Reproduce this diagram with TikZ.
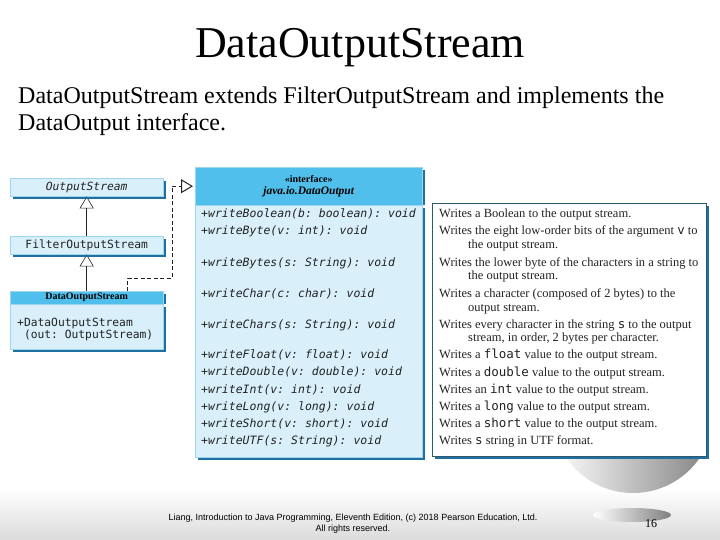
\documentclass[tikz,border=0pt]{standalone}
\usepackage{fontspec}
\setmainfont{Liberation Serif}
\setsansfont{Liberation Sans}
\setmonofont{DejaVu Sans Mono}
\usepackage{xcolor}
\usetikzlibrary{arrows.meta,positioning}
\definecolor{umlhead}{HTML}{50BFEB}
\definecolor{umlbody}{HTML}{D9F0FB}
\definecolor{umledge}{HTML}{9ED6F0}
\definecolor{umlshade}{HTML}{1F6FA0}
\definecolor{descedge}{HTML}{2E5A6E}
\definecolor{inkdark}{HTML}{222222}
\tikzset{
  % ---- class boxes ----------------------------------------------------
  ubox/.style={
    draw=umledge, line width=0.4pt, fill=umlbody, anchor=north west,
    inner sep=0pt, minimum width=153pt},
  uhead/.style={ubox, fill=umlhead},
  ushade/.style={draw=umlshade, line width=2.5pt},
  umono/.style={font=\fontsize{11.3}{12}\ttfamily, text=inkdark,
                inner sep=0pt},
  umeth/.style={umono, font=\fontsize{11.5}{12}\ttfamily\itshape,
                anchor=base west},
  % ---- description ----------------------------------------------------
  udesc/.style={font=\fontsize{12.5}{14}\selectfont, text=inkdark,
                anchor=base west, inner sep=0pt},
  % ---- connections ----------------------------------------------------
  uext/.style={-{Triangle[open, length=12pt, width=14pt]},
               draw=inkdark, line width=0.6pt},
  uimpl/.style={uext, dashed, dash pattern=on 4pt off 2.5pt,
                line width=1pt},
}

\begin{document}
\begin{tikzpicture}[x=1pt, y=-1pt]
\useasboundingbox (0,0) rectangle (720,540);

% ---------------- slide backdrop -------------------------------------
\shade[top color=white, bottom color=black!14] (0,488) rectangle (720,540);
\begin{scope}
  \clip (540,457) rectangle (720,500);
  \shade[left color=white, right color=black!50] (633,412) circle (81);
\end{scope}
\shade[left color=white, right color=black!50] (632,515) ellipse (39 and 7);

% ---------------- slide text -----------------------------------------
\node[font=\fontsize{44}{50}\selectfont, anchor=base] (title)
  at (360,58) {DataOutputStream};
\node[font=\fontsize{24}{28}\selectfont, anchor=base west, inner sep=0pt]
  (intro) at (18,104)
  {DataOutputStream extends FilterOutputStream and implements the};
\node[font=\fontsize{24}{28}\selectfont, anchor=base west, inner sep=0pt]
  (intro2) at (18,131) {DataOutput interface.};

% ---------------- class hierarchy ------------------------------------
\node[ubox, minimum height=18pt, umono, font=\fontsize{11.3}{12}\ttfamily\itshape]
  (ostream) at (10,178) {OutputStream};
\node[ubox, minimum height=18pt, umono] (fstream) at (10,236)
  {FilterOutputStream};
\node[uhead, minimum height=13pt,
      font=\fontsize{10}{11}\bfseries] (dhead) at (10,291) {DataOutputStream};
\node[ubox, minimum height=45pt] (dbody) at (10,304) {};
\node[umono, anchor=base west] (dctor) at (17,326) {+DataOutputStream};
\node[umono, anchor=base west] (dargs) at (17,338) {\ (out: OutputStream)};

\draw[uext] (fstream.north) -- (ostream.south);
\draw[uext] (dhead.north) -- (fstream.south);

% ---------------- interface ------------------------------------------
\node[uhead, minimum width=227pt, minimum height=38pt, align=center,
      font=\bfseries] (ihead) at (195,167)
  {{\fontsize{10}{12}\selectfont\guillemotleft interface\guillemotright}\\
   {\fontsize{11.5}{12}\selectfont\itshape java.io.DataOutput}};
\node[ubox, minimum width=227pt, minimum height=252pt] (ibody) at (195,205)
  {};

\foreach \y/\m in {218/{writeBoolean(b: boolean): void},
                   235/{writeByte(v: int): void},
                   266/{writeBytes(s: String): void},
                   297/{writeChar(c: char): void},
                   328/{writeChars(s: String): void},
                   358/{writeFloat(v: float): void},
                   375/{writeDouble(v: double): void},
                   393/{writeInt(v: int): void},
                   410/{writeLong(v: long): void},
                   427/{writeShort(v: short): void},
                   444/{writeUTF(s: String): void}}{
  \node[umeth] (meth\y) at (201,\y) {+\m};
}

\draw[uimpl] ([xshift=41pt]dhead.north) -- ++(0,-13) -| ([xshift=-23pt]ihead.west)
  -- ([xshift=-2pt]ihead.west);

% ---------------- descriptions ---------------------------------------
\node[draw=descedge, line width=0.7pt, fill=white, anchor=north west,
      minimum width=274pt, minimum height=253pt, inner sep=0pt] (desc)
  at (432,203) {};

\foreach \x/\y/\t in {439/218/{Writes a Boolean to the output stream.},
    439/235/{Writes the eight low-order bits of the argument \texttt{v} to},
    468/248/{the output stream.},
    439/266/{Writes the lower byte of the characters in a string to},
    468/279/{the output stream.},
    439/297/{Writes a character (composed of 2 bytes) to the},
    468/311/{output stream.},
    439/328/{Writes every character in the string \texttt{s} to the output},
    468/341/{stream, in order, 2 bytes per character.},
    439/358/{Writes a \texttt{float} value to the output stream.},
    439/376/{Writes a \texttt{double} value to the output stream.},
    439/393/{Writes an \texttt{int} value to the output stream.},
    439/410/{Writes a \texttt{long} value to the output stream.},
    439/427/{Writes a \texttt{short} value to the output stream.},
    439/444/{Writes \texttt{s} string in UTF format.}}{
  \node[udesc] (note\y) at (\x,\y) {\t};
}

% box shadows on the right and lower edges
\foreach \n in {ostream,fstream,dbody,ibody,desc}{
  \draw[ushade] ([xshift=1.5pt,yshift=-3pt]\n.north east)
    -- ([xshift=1.5pt,yshift=-1.5pt]\n.south east)
    -- ([xshift=3pt,yshift=-1.5pt]\n.south west);
}
\foreach \n in {dhead,ihead}{
  \draw[ushade] ([xshift=1.5pt,yshift=-3pt]\n.north east)
    -- ([xshift=1.5pt]\n.south east);
}

% ---------------- footer ---------------------------------------------
\node[font=\sffamily\fontsize{9}{11}\selectfont, align=center, anchor=base,
      inner sep=0pt] (credit) at (353,531)
  {Liang, Introduction to Java Programming, Eleventh Edition, (c) 2018 Pearson Education, Ltd.\\All rights reserved.};
\node[font=\fontsize{12}{14}\selectfont, anchor=base, inner sep=0pt]
  (page) at (651,527) {16};

\end{tikzpicture}
\end{document}
